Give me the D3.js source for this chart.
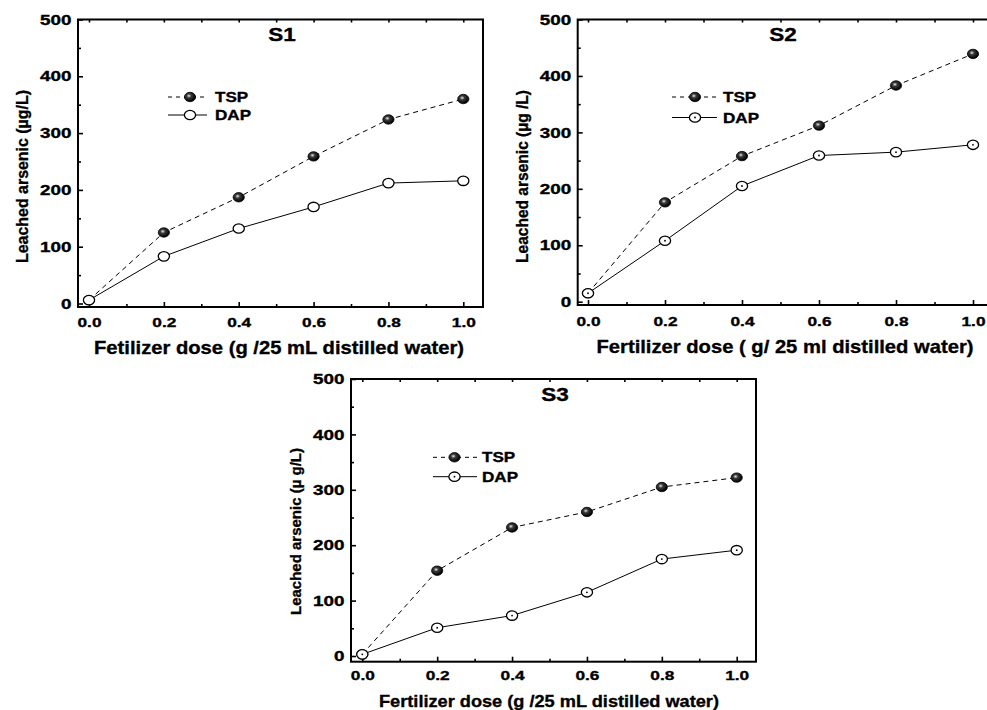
<!DOCTYPE html>
<html>
<head>
<meta charset="utf-8">
<script src="https://cdn.jsdelivr.net/npm/d3@7"></script>
<style>
  html, body { margin: 0; padding: 0; background: #fff; overflow: hidden; }
  svg { display: block; font-family: "Liberation Sans", Arial, sans-serif; font-weight: bold; }
  svg text { stroke: #000; stroke-width: 0.35px; }
</style>
</head>
<body>
<svg id="chart" width="987" height="710"></svg>
<script>
// data
const doses = [0, 0.2, 0.4, 0.6, 0.8, 1.0];
const s1TSP = [6, 125, 187, 259, 324, 360];
const s1DAP = [6, 83, 132, 170, 212, 216];
const s2TSP = [15, 176, 258, 312, 383, 439];
const s2DAP = [15, 108, 205, 259, 265, 278];
const s3TSP = [3, 154, 232, 260, 305, 322];
const s3DAP = [3, 51, 73, 115, 175, 191];

const xTicks = [0, 0.2, 0.4, 0.6, 0.8, 1.0];
const xMinor = [0.1, 0.3, 0.5, 0.7, 0.9];
const yTicks = [0, 100, 200, 300, 400, 500];
const yMinor = [50, 150, 250, 350, 450];
const seriesNames = ['TSP', 'DAP'];
const panelTitles = ['S1', 'S2', 'S3'];
const xTitles = [
  'Fetilizer dose (g /25 mL distilled water)',
  'Fertilizer dose ( g/ 25 ml distilled water)',
  'Fertilizer dose (g /25 mL distilled water)'
];
const yTitles = [
  'Leached arsenic (\u00b5g/L)',
  'Leached arsenic (\u00b5g /L)',
  'Leached arsenic (\u00b5 g/L)'
];

// layout of each panel (pixels)
const panels = [
  { x0: 89, x1: 463.3, y0: 303.5, y500: 19.5, left: 78, right: 483, bottom: 307, xPad: 10.5,
    title: [282, 41], leg: { a: 168, b: 207, m: 190, t: 215, y1: 97, y2: 115 },
    xt: [279, 353.5, 370, 19], yt: [27.5, 176.5, 173, 16.5], dot: false, tsp: s1TSP, dap: s1DAP },
  { x0: 588, x1: 973, y0: 301.7, y500: 19.5, left: 577.7, right: 993, bottom: 305, xPad: 11.5,
    title: [783, 41], leg: { a: 672, b: 717, m: 695, t: 723, y1: 97, y2: 117.5 },
    xt: [785, 353, 377, 19], yt: [527.5, 176.5, 173, 16], dot: true, tsp: s2TSP, dap: s2DAP },
  { x0: 362.3, x1: 736.7, y0: 656, y500: 379, left: 351, right: 756, bottom: 661.7, xPad: 8.5,
    title: [555, 401], leg: { a: 433, b: 477, m: 454.5, t: 482, y1: 457.3, y2: 476.7 },
    xt: [549, 707, 340, 17], yt: [301, 531.5, 167, 15.5], dot: true, tsp: s3TSP, dap: s3DAP }
];

const svg = d3.select('#chart');

// shaded ball used for the TSP markers
const grad = svg.append('defs').append('radialGradient')
  .attr('id', 'ball').attr('cx', '40%').attr('cy', '38%').attr('r', '60%');
grad.append('stop').attr('offset', '0%').attr('stop-color', '#e8e8e8');
grad.append('stop').attr('offset', '35%').attr('stop-color', '#3a3a3a');
grad.append('stop').attr('offset', '100%').attr('stop-color', '#000');

const xStretch = 1.28;   // the figure's lettering is drawn wide
const yStretch = 1.3;

function marker(g, cx, cy, filled, dot) {
  g.append('ellipse')
    .attr('cx', cx).attr('cy', cy).attr('rx', 5.6).attr('ry', 4.7)
    .attr('fill', filled ? 'url(#ball)' : '#fff')
    .attr('stroke', '#000').attr('stroke-width', filled ? 0.8 : 1.3);
  if (!filled && dot) {
    g.append('circle').attr('cx', cx).attr('cy', cy).attr('r', 0.9).attr('fill', '#000');
  }
}

panels.forEach((p, i) => {
  const g = svg.append('g');
  const x = d3.scaleLinear().domain([0, 1]).range([p.x0, p.x1]);
  const y = d3.scaleLinear().domain([0, 500]).range([p.y0, p.y500]);

  // bottom axis, ticks inside
  const bx = g.append('g').attr('transform', `translate(0,${p.bottom})`)
    .call(d3.axisBottom(x).tickValues(xTicks).tickSizeInner(-5).tickSizeOuter(0)
      .tickPadding(p.xPad).tickFormat(d3.format('.1f')));
  bx.selectAll('text')
    .attr('font-size', 13.5).attr('font-family', null).attr('fill', '#000')
    .attr('transform', `scale(${xStretch},1)`);
  g.append('g').attr('transform', `translate(0,${p.bottom})`)
    .call(d3.axisBottom(x).tickValues(xMinor).tickSizeInner(-3).tickSizeOuter(0).tickFormat(''));

  // top axis, short ticks only
  g.append('g').attr('transform', `translate(0,${p.y500})`)
    .call(d3.axisTop(x).tickValues(xTicks.concat(xMinor)).tickSizeInner(-3).tickSizeOuter(0).tickFormat(''));

  // left axis
  const ly = g.append('g').attr('transform', `translate(${p.left},0)`)
    .call(d3.axisLeft(y).tickValues(yTicks).tickSizeInner(-5).tickSizeOuter(0).tickPadding(7));
  ly.selectAll('text')
    .attr('font-size', 14.5).attr('font-family', null).attr('fill', '#000')
    .attr('x', -6.5 / yStretch)
    .attr('transform', `scale(${yStretch},1)`);
  g.append('g').attr('transform', `translate(${p.left},0)`)
    .call(d3.axisLeft(y).tickValues(yMinor).tickSizeInner(-3).tickSizeOuter(0).tickFormat(''));

  g.selectAll('.domain').remove();
  g.selectAll('.tick line').attr('stroke', '#000').attr('stroke-width', 1.6);

  // frame
  g.append('rect')
    .attr('x', p.left).attr('y', p.y500)
    .attr('width', p.right - p.left).attr('height', p.bottom - p.y500)
    .attr('fill', 'none').attr('stroke', '#000').attr('stroke-width', 2);

  // series lines
  const line = d3.line().x((d, k) => x(doses[k])).y(d => y(d));
  g.append('path').datum(p.tsp).attr('d', line)
    .attr('fill', 'none').attr('stroke', '#000').attr('stroke-width', 1)
    .attr('stroke-dasharray', '5,4');
  g.append('path').datum(p.dap).attr('d', line)
    .attr('fill', 'none').attr('stroke', '#000').attr('stroke-width', 1);

  p.tsp.forEach((v, k) => marker(g, x(doses[k]), y(v), true, p.dot));
  p.dap.forEach((v, k) => marker(g, x(doses[k]), y(v), false, p.dot));

  // legend
  const L = p.leg;
  g.append('line').attr('x1', L.a).attr('x2', L.b).attr('y1', L.y1).attr('y2', L.y1)
    .attr('stroke', '#000').attr('stroke-width', 1).attr('stroke-dasharray', '4,4');
  marker(g, L.m, L.y1, true, p.dot);
  g.append('line').attr('x1', L.a).attr('x2', L.b).attr('y1', L.y2).attr('y2', L.y2)
    .attr('stroke', '#000').attr('stroke-width', 1);
  marker(g, L.m, L.y2, false, p.dot);
  [L.y1, L.y2].forEach((ly2, k) => {
    g.append('text')
      .attr('transform', `translate(${L.t},${ly2 + 5}) scale(1.22,1)`)
      .attr('font-size', 14).text(seriesNames[k]);
  });

  // panel title
  g.append('text')
    .attr('transform', `translate(${p.title[0]},${p.title[1]}) scale(1.25,1)`)
    .attr('text-anchor', 'middle').attr('font-size', 18).text(panelTitles[i]);

  // axis titles
  g.append('text')
    .attr('x', p.xt[0]).attr('y', p.xt[1])
    .attr('text-anchor', 'middle').attr('font-size', p.xt[3])
    .attr('textLength', p.xt[2]).attr('lengthAdjust', 'spacingAndGlyphs')
    .text(xTitles[i]);
  g.append('text')
    .attr('transform', `translate(${p.yt[0]},${p.yt[1]}) rotate(-90)`)
    .attr('text-anchor', 'middle').attr('font-size', p.yt[3])
    .attr('textLength', p.yt[2]).attr('lengthAdjust', 'spacingAndGlyphs')
    .text(yTitles[i]);
});
</script>
</body>
</html>
